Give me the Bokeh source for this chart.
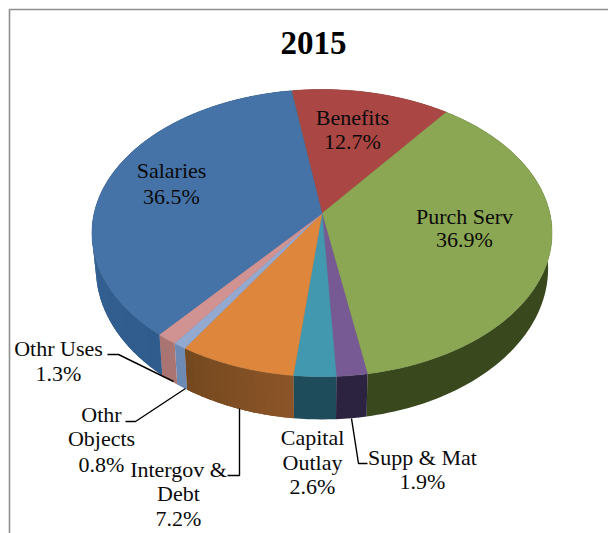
import numpy as np
from bokeh.plotting import figure
from bokeh.models import Range1d
from bokeh.core.properties import value
from bokeh.embed import file_html
from bokeh.resources import INLINE

title_text = "2015"
categories = ["Benefits", "Purch Serv", "Supp & Mat", "Capital Outlay", "Intergov & Debt", "Othr Objects", "Othr Uses", "Salaries"]
shares = [12.7, 36.9, 1.9, 2.6, 7.2, 0.8, 1.3, 36.5]
top_colors = ["#AA4643", "#8BA753", "#775A93", "#4198AF", "#DF863D", "#93A9D0", "#D19392", "#4573A8"]
wall_from = ["#7A302E", "#3B481F", "#2E2440", "#1F4D5B", "#8C5528", "#6F8CB6", "#AD7674", "#2F5B8D"]
wall_to = ["#7A302E", "#3A471E", "#2B2240", "#1F4A58", "#74481F", "#6A87B0", "#A87270", "#3F6A9C"]

label_lines = [["Benefits", "12.7%"], ["Purch Serv", "36.9%"], ["Supp & Mat", "1.9%"], ["Capital", "Outlay", "2.6%"],
               ["Intergov &", "Debt", "7.2%"], ["Othr", "Objects", "0.8%"], ["Othr Uses", "1.3%"], ["Salaries", "36.5%"]]
label_x = [352, 464, 422, 312, 178, 101, 58, 171]
label_y = [[117, 141], [216, 239], [457, 481], [437, 462, 486], [469, 493, 518], [414, 438, 464], [348, 373], [170, 196]]
leaders = [([107, 118, 173], [354, 354, 381]),
           ([125, 135, 185], [421, 421, 388]),
           ([227, 239, 239], [475, 475, 408]),
           ([367, 358, 351], [463, 463, 418])]

# Perspective of the tilted disc: top face and lower rim
CX, START_DEG, A = 321.5, -8.5, -0.136
TOP = dict(apex=213.0, rx=227.9, ry=140.9)
BOT = dict(apex=247.4, rx=224.0, ry=148.2)


def project(theta_deg, f):
    th = np.radians(theta_deg)
    s, c = -np.cos(th), np.sin(th)
    w = 1 + A * s
    return CX + f["rx"] * c / w, f["apex"] + f["ry"] * s / w


def mix(c1, c2, t):
    a = [int(c1[i:i + 2], 16) for i in (1, 3, 5)]
    b = [int(c2[i:i + 2], 16) for i in (1, 3, 5)]
    return "#%02X%02X%02X" % tuple(int(round(x + (y - x) * t)) for x, y in zip(a, b))


p = figure(width=608, height=533, x_range=Range1d(0, 608), y_range=Range1d(533, 0),
           toolbar_location=None, output_backend="svg", min_border=0, outline_line_color=None,
           background_fill_color="white", border_fill_color="white")
p.axis.visible = False
p.grid.visible = False

# chart frame
p.line([9, 9, 608], [533, 9, 9], line_color="#8E8E8E", line_width=1.6)

edges = START_DEG + np.concatenate([[0], np.cumsum(shares)]) * 3.6

# walls: solid base per slice, then gradient bands for slices whose shade changes
bx, by, bc = [], [], []
wx, wy, wc = [], [], []
for i in range(len(shares)):
    a0, a1 = edges[i], edges[i + 1]
    ang = np.linspace(a0, a1, max(4, int(shares[i] * 3)))
    t0 = project(ang, TOP)
    b0 = project(ang[::-1], BOT)
    bx.append(list(t0[0]) + list(b0[0]))
    by.append(list(t0[1]) + list(b0[1]))
    bc.append(mix(wall_from[i], wall_to[i], 0.5))
    if wall_from[i] != wall_to[i] and shares[i] > 5 and categories[i] != "Purch Serv":
        n = max(2, int((a1 - a0) / 2))
        ang = np.linspace(a0, a1, n + 1)
        for j in range(n):
            seg = np.linspace(ang[j], min(ang[j + 1] + 0.6, a1), 4)
            t1 = project(seg, TOP)
            b1 = project(seg[::-1], BOT)
            wx.append(list(t1[0]) + list(b1[0]))
            wy.append(list(t1[1]) + list(b1[1]))
            wc.append(mix(wall_from[i], wall_to[i], (j + 0.5) / n))
p.patches(bx, by, fill_color=bc, line_color=None)
p.patches(wx, wy, fill_color=wc, line_color=None)

# top face: neutral underlay so the seams between slices stay dark
ux, uy = project(np.linspace(0, 360, 361), TOP)
p.patch(ux, uy, fill_color="#5F6F6F", line_color=None)
tx, ty = [], []
for i in range(len(shares)):
    ang = np.linspace(edges[i], edges[i + 1], max(3, int(shares[i] * 6)))
    x, y = project(ang, TOP)
    tx.append([CX] + list(x))
    ty.append([TOP["apex"]] + list(y))
p.patches(tx, ty, fill_color=top_colors, line_color=top_colors, line_width=0.5, line_join="round")

# leader lines
for lx, ly in leaders:
    p.line(lx, ly, line_color="#000000", line_width=1.4)

# labels
FONT = value("Liberation Serif")
for lines, x, ys in zip(label_lines, label_x, label_y):
    p.text([x] * len(lines), ys, text=lines, text_font=FONT, text_font_size="22px",
           text_align="center", text_baseline="middle", text_color="#0A0A0A")
p.text([313], [42], text=[title_text], text_font=FONT, text_font_size="33px", text_font_style="bold",
       text_align="center", text_baseline="middle", text_color="#000000")

open("out.html", "w").write(file_html(p, INLINE))
